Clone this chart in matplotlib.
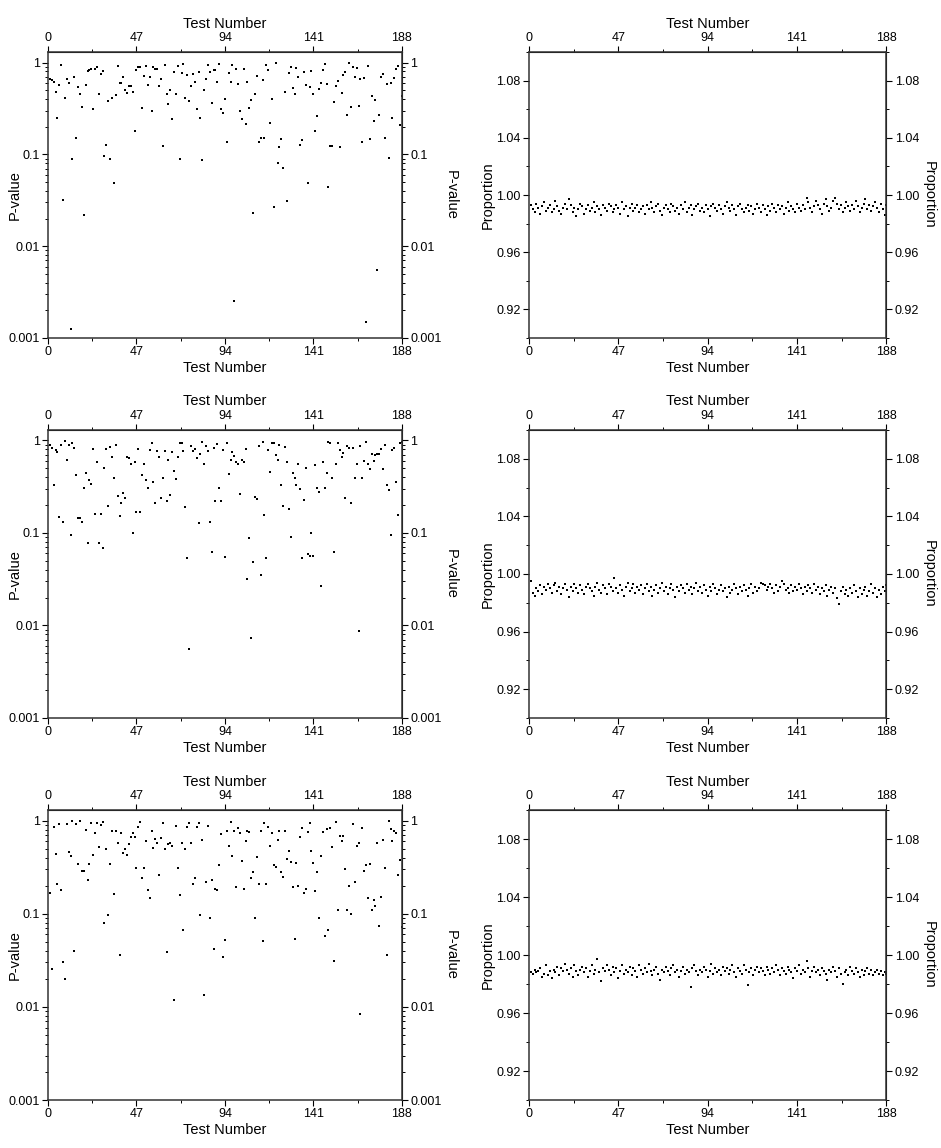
import matplotlib
matplotlib.use("Agg")
import matplotlib.pyplot as plt
import numpy as np
from matplotlib.ticker import FixedLocator, MultipleLocator, LogLocator, NullFormatter

plt.rcParams['font.family'] = ['Liberation Sans', 'DejaVu Sans']

test_ticks = [0, 47, 94, 141, 188]
p_ticks = [0.001, 0.01, 0.1, 1]
p_labels = ['0.001', '0.01', '0.1', '1']
prop_ticks = [0.92, 0.96, 1.00, 1.04, 1.08]
prop_labels = ['0.92', '0.96', '1.00', '1.04', '1.08']
prop_minor = [0.90, 0.94, 0.98, 1.02, 1.06, 1.10]

# P-values, sample 1
pvals_1 = [0.66, 0.64, 0.62, 0.48, 0.25, 0.57, 0.94, 0.032, 0.41, 0.66,
           0.60, 0.00125, 0.090, 0.70, 0.15, 0.54, 0.46, 0.33, 0.022, 0.57,
           0.80, 0.83, 0.85, 0.31, 0.85, 0.90, 0.46, 0.75, 0.81, 0.095,
           0.126, 0.38, 0.089, 0.41, 0.049, 0.44, 0.92, 0.60, 0.60, 0.70,
           0.50, 0.47, 0.55, 0.56, 0.48, 0.18, 0.82, 0.89, 0.89, 0.32,
           0.72, 0.92, 0.57, 0.70, 0.30, 0.90, 0.85, 0.85, 0.55, 0.67,
           0.124, 0.94, 0.46, 0.35, 0.50, 0.24, 0.79, 0.46, 0.92, 0.088,
           0.77, 0.97, 0.41, 0.73, 0.38, 0.55, 0.75, 0.61, 0.31, 0.79,
           0.25, 0.086, 0.50, 0.66, 0.95, 0.79, 0.36, 0.83, 0.83, 0.61,
           0.97, 0.31, 0.28, 0.40, 0.138, 0.77, 0.61,
           0.94, 0.0025, 0.85, 0.58, 0.30, 0.24, 0.86, 0.215, 0.62, 0.32,
           0.39, 0.023, 0.46, 0.72, 0.138, 0.149, 0.65, 0.149, 0.93, 0.83,
           0.22, 0.40, 0.027, 0.98, 0.080, 0.12, 0.146, 0.071, 0.48, 0.031,
           0.77, 0.89, 0.53, 0.45, 0.87, 0.70, 0.126, 0.144, 0.79, 0.57,
           0.049, 0.54, 0.81, 0.45, 0.18, 0.26, 0.52, 0.60, 0.83, 0.97,
           0.58, 0.044, 0.122, 0.124, 0.37, 0.56, 0.63, 0.12, 0.47, 0.73,
           0.78, 0.27, 0.98, 0.33, 0.90, 0.69, 0.87, 0.34, 0.66, 0.136,
           0.68, 0.0015, 0.91, 0.146, 0.43, 0.23, 0.39, 0.0055, 0.27, 0.69,
           0.75, 0.15, 0.58, 0.091, 0.60, 0.25, 0.68, 0.86, 0.92, 0.21, 0.43]

# P-values, sample 2
pvals_2 = [0.89, 0.82, 0.33, 0.78, 0.75, 0.15, 0.89, 0.13, 0.98, 0.61,
           0.89, 0.094, 0.95, 0.82, 0.42, 0.145, 0.146, 0.13, 0.31, 0.44,
           0.078, 0.37, 0.34, 0.80, 0.16, 0.59, 0.077, 0.16, 0.068, 0.51,
           0.80, 0.195, 0.86, 0.66, 0.39, 0.90, 0.25, 0.153, 0.21, 0.27,
           0.24, 0.66, 0.64, 0.55, 0.10, 0.59, 0.17, 0.81, 0.17, 0.42,
           0.56, 0.37, 0.31, 0.78, 0.93, 0.355, 0.21, 0.76, 0.66, 0.24,
           0.39, 0.77, 0.22, 0.62, 0.255, 0.75, 0.47, 0.38, 0.66, 0.93,
           0.93, 0.76, 0.19, 0.053, 0.0055, 0.87, 0.77, 0.80, 0.65, 0.128,
           0.71, 0.97, 0.56, 0.87, 0.76, 0.13, 0.063, 0.82, 0.22, 0.91,
           0.31, 0.22, 0.78, 0.055, 0.95, 0.43, 0.62,
           0.75, 0.68, 0.58, 0.55, 0.265, 0.62, 0.59, 0.80, 0.032, 0.088,
           0.0073, 0.048, 0.245, 0.235, 0.87, 0.035, 0.97, 0.155, 0.053, 0.78,
           0.46, 0.94, 0.93, 0.70, 0.61, 0.90, 0.33, 0.195, 0.85, 0.59,
           0.18, 0.091, 0.44, 0.39, 0.33, 0.56, 0.30, 0.053, 0.23, 0.51,
           0.059, 0.056, 0.099, 0.056, 0.54, 0.31, 0.28, 0.027, 0.58, 0.31,
           0.44, 0.96, 0.94, 0.39, 0.063, 0.56, 0.93, 0.78, 0.66, 0.73,
           0.24, 0.87, 0.82, 0.21, 0.83, 0.39, 0.56, 0.0088, 0.87, 0.39,
           0.60, 0.96, 0.56, 0.49, 0.72, 0.60, 0.70, 0.71, 0.71, 0.80,
           0.49, 0.90, 0.33, 0.29, 0.096, 0.79, 0.83, 0.36, 0.155, 0.94, 0.96]

# P-values, sample 3
pvals_3 = [0.168, 0.0255, 0.85, 0.44, 0.21, 0.92, 0.18, 0.030, 0.020, 0.92,
           0.46, 0.415, 0.99, 0.040, 0.92, 0.34, 0.98, 0.29, 0.29, 0.79,
           0.23, 0.34, 0.94, 0.43, 0.73, 0.94, 0.52, 0.89, 0.975, 0.080,
           0.49, 0.098, 0.34, 0.77, 0.164, 0.78, 0.58, 0.036, 0.73, 0.45,
           0.49, 0.43, 0.565, 0.67, 0.74, 0.67, 0.31, 0.86, 0.96, 0.24,
           0.31, 0.61, 0.18, 0.148, 0.78, 0.51, 0.64, 0.58, 0.26, 0.645,
           0.94, 0.50, 0.039, 0.565, 0.58, 0.54, 0.0118, 0.87, 0.31, 0.16,
           0.58, 0.067, 0.50, 0.85, 0.94, 0.58, 0.21, 0.245, 0.85, 0.94,
           0.098, 0.62, 0.0133, 0.22, 0.88, 0.090, 0.23, 0.042, 0.185, 0.18,
           0.33, 0.71, 0.034, 0.052, 0.78,
           0.53, 0.96, 0.42, 0.78, 0.195, 0.83, 0.73, 0.37, 0.185, 0.61,
           0.77, 0.76, 0.24, 0.28, 0.089, 0.41, 0.21, 0.77, 0.051, 0.94,
           0.21, 0.85, 0.54, 0.74, 0.33, 0.32, 0.62, 0.77, 0.28, 0.25,
           0.77, 0.385, 0.475, 0.36, 0.195, 0.054, 0.35, 0.20, 0.66, 0.83,
           0.167, 0.186, 0.76, 0.95, 0.475, 0.35, 0.174, 0.28, 0.090, 0.42,
           0.75, 0.057, 0.82, 0.067, 0.84, 0.52, 0.031, 0.97, 0.110, 0.68,
           0.60, 0.68, 0.30, 0.110, 0.20, 0.10, 0.91, 0.22, 0.53, 0.58,
           0.0084, 0.84, 0.29, 0.335, 0.146, 0.34, 0.110, 0.14, 0.12, 0.57,
           0.074, 0.15, 0.62, 0.31, 0.036, 0.98, 0.81, 0.61, 0.78, 0.74,
           0.26, 0.38, 0.072]

# proportions of passing sequences
prop_1 = [0.993, 0.990, 0.988, 0.994, 0.991, 0.987, 0.992, 0.995, 0.989, 0.991,
          0.993, 0.988, 0.990, 0.996, 0.992, 0.989, 0.987, 0.991, 0.994, 0.990,
          0.997, 0.993, 0.988, 0.991, 0.985, 0.990, 0.994, 0.992, 0.987, 0.990,
          0.993, 0.989, 0.991, 0.995, 0.988, 0.992, 0.990, 0.986, 0.993, 0.991,
          0.989, 0.994, 0.992, 0.988, 0.990, 0.993, 0.991, 0.987, 0.995, 0.990,
          0.992, 0.985, 0.991, 0.994, 0.989, 0.991, 0.993, 0.988, 0.990, 0.992,
          0.987, 0.993, 0.990, 0.995, 0.991, 0.988, 0.992, 0.994, 0.989, 0.986,
          0.991, 0.993, 0.990, 0.988, 0.994, 0.992, 0.989, 0.991, 0.987, 0.993,
          0.990, 0.995, 0.988, 0.991, 0.993, 0.986, 0.990, 0.992, 0.994, 0.989,
          0.991, 0.988, 0.993, 0.990, 0.985, 0.992, 0.994, 0.991, 0.989, 0.993,
          0.990, 0.987, 0.992, 0.995, 0.991, 0.989, 0.993, 0.990, 0.986, 0.992,
          0.994, 0.990, 0.988, 0.991, 0.993, 0.989, 0.992, 0.987, 0.990, 0.994,
          0.991, 0.988, 0.993, 0.990, 0.986, 0.992, 0.989, 0.994, 0.991, 0.988,
          0.993, 0.990, 0.992, 0.987, 0.991, 0.995, 0.989, 0.992, 0.990, 0.988,
          0.994, 0.991, 0.989, 0.993, 0.990, 0.998, 0.995, 0.991, 0.988, 0.992,
          0.996, 0.993, 0.990, 0.987, 0.994, 0.997, 0.992, 0.989, 0.991, 0.996,
          0.998, 0.994, 0.990, 0.993, 0.988, 0.991, 0.995, 0.992, 0.989, 0.993,
          0.990, 0.996, 0.992, 0.988, 0.991, 0.994, 0.997, 0.990, 0.993, 0.989,
          0.992, 0.995, 0.991, 0.988, 0.994, 0.990, 0.986, 0.993]

prop_2 = [0.995, 0.987, 0.985, 0.990, 0.988, 0.992, 0.986, 0.991, 0.989, 0.993,
          0.990, 0.987, 0.992, 0.994, 0.988, 0.991, 0.986, 0.990, 0.993, 0.989,
          0.984, 0.991, 0.988, 0.993, 0.990, 0.987, 0.992, 0.989, 0.986, 0.991,
          0.993, 0.990, 0.988, 0.985, 0.991, 0.994, 0.989, 0.987, 0.992, 0.990,
          0.986, 0.993, 0.991, 0.988, 0.997, 0.990, 0.987, 0.992, 0.989, 0.985,
          0.991, 0.994, 0.988, 0.990, 0.993, 0.987, 0.991, 0.989, 0.992, 0.986,
          0.990, 0.993, 0.988, 0.991, 0.985, 0.989, 0.992, 0.987, 0.990, 0.994,
          0.988, 0.991, 0.986, 0.990, 0.993, 0.989, 0.984, 0.991, 0.988, 0.992,
          0.990, 0.987, 0.993, 0.989, 0.991, 0.986, 0.990, 0.994, 0.988, 0.991,
          0.987, 0.992, 0.989, 0.985, 0.991, 0.988, 0.993, 0.990, 0.986, 0.989,
          0.992, 0.988, 0.990, 0.984, 0.991, 0.987, 0.989, 0.993, 0.990, 0.986,
          0.991, 0.988, 0.992, 0.989, 0.985, 0.990, 0.993, 0.987, 0.991, 0.988,
          0.990, 0.994, 0.993, 0.992, 0.989, 0.991, 0.993, 0.990, 0.987, 0.992,
          0.988, 0.991, 0.995, 0.993, 0.989, 0.990, 0.987, 0.992, 0.988, 0.991,
          0.989, 0.993, 0.990, 0.986, 0.991, 0.988, 0.992, 0.990, 0.987, 0.993,
          0.989, 0.991, 0.986, 0.990, 0.988, 0.992, 0.985, 0.989, 0.991, 0.987,
          0.990, 0.983, 0.979, 0.988, 0.991, 0.986, 0.989, 0.985, 0.990, 0.987,
          0.992, 0.988, 0.984, 0.990, 0.986, 0.989, 0.991, 0.985, 0.988, 0.993,
          0.987, 0.990, 0.984, 0.989, 0.986, 0.991, 0.988, 0.992]

prop_3 = [0.988, 0.987, 0.990, 0.988, 0.989, 0.991, 0.985, 0.987, 0.993, 0.986,
          0.989, 0.984, 0.990, 0.988, 0.992, 0.986, 0.991, 0.989, 0.994, 0.990,
          0.987, 0.991, 0.985, 0.993, 0.989, 0.986, 0.990, 0.992, 0.988, 0.991,
          0.985, 0.989, 0.993, 0.987, 0.990, 0.997, 0.988, 0.982, 0.991, 0.989,
          0.993, 0.990, 0.986, 0.992, 0.988, 0.991, 0.984, 0.989, 0.993, 0.987,
          0.990, 0.988, 0.992, 0.986, 0.991, 0.989, 0.985, 0.993, 0.990, 0.987,
          0.991, 0.988, 0.994, 0.989, 0.986, 0.990, 0.992, 0.987, 0.983, 0.990,
          0.988, 0.992, 0.989, 0.986, 0.991, 0.993, 0.988, 0.990, 0.985, 0.989,
          0.992, 0.987, 0.990, 0.988, 0.978, 0.991, 0.993, 0.989, 0.986, 0.990,
          0.988, 0.992, 0.990, 0.985, 0.989, 0.994, 0.987, 0.991, 0.988, 0.990,
          0.986, 0.992, 0.989, 0.991, 0.987, 0.990, 0.993, 0.988, 0.985, 0.991,
          0.989, 0.987, 0.993, 0.990, 0.979, 0.988, 0.991, 0.986, 0.990, 0.992,
          0.988, 0.991, 0.989, 0.986, 0.992, 0.990, 0.987, 0.991, 0.988, 0.993,
          0.990, 0.986, 0.991, 0.989, 0.987, 0.992, 0.990, 0.988, 0.984, 0.991,
          0.989, 0.993, 0.987, 0.990, 0.988, 0.996, 0.991, 0.985, 0.989, 0.992,
          0.988, 0.990, 0.986, 0.991, 0.989, 0.987, 0.983, 0.990, 0.988, 0.992,
          0.989, 0.985, 0.991, 0.987, 0.980, 0.988, 0.990, 0.986, 0.992, 0.989,
          0.987, 0.991, 0.988, 0.985, 0.990, 0.986, 0.989, 0.991, 0.987, 0.990,
          0.986, 0.988, 0.990, 0.987, 0.989, 0.986, 0.988, 0.987]

pval_sets = [pvals_1, pvals_2, pvals_3]
prop_sets = [prop_1, prop_2, prop_3]

FS_LABEL = 10.5
FS_TICK = 9
MS = 1.9
row_bottoms = [0.7056, 0.3746, 0.0418]
row_heights = [0.249, 0.2509, 0.2526]


def finish_axis(ax, ylabel, yticks, ylabels, ylog):
    ax.set_xlim(0, 188)
    ax.set_xticks(test_ticks)
    ax.xaxis.set_minor_locator(MultipleLocator(23.5))
    ax.set_yticks(yticks, ylabels)
    if ylog:
        ax.yaxis.set_minor_locator(LogLocator(base=10, subs=np.arange(2, 10)))
        ax.yaxis.set_minor_formatter(NullFormatter())
    else:
        ax.yaxis.set_minor_locator(FixedLocator(prop_minor))
    ax.tick_params(which='major', direction='out', length=4, width=0.8, labelsize=FS_TICK, pad=2)
    ax.tick_params(which='minor', direction='out', length=2.5, width=0.7)
    ax.set_xlabel('Test Number', fontsize=FS_LABEL, labelpad=2)
    ax.set_ylabel(ylabel, fontsize=FS_LABEL)
    if ylog:
        # label sits between the tick labels, close to the spine
        ax.yaxis.set_label_coords(-0.075, 0.5)
    else:
        ax.yaxis.set_label_coords(-0.095, 0.5)
    for sp in ax.spines.values():
        sp.set_linewidth(1.1)
        sp.set_color('#333333')

    top = ax.secondary_xaxis('top')
    top.set_xticks(test_ticks)
    top.xaxis.set_minor_locator(MultipleLocator(23.5))
    top.tick_params(which='major', direction='out', length=4, width=0.8, labelsize=FS_TICK, pad=2)
    top.tick_params(which='minor', direction='out', length=2.5, width=0.7)
    top.set_xlabel('Test Number', fontsize=FS_LABEL, labelpad=3)

    right = ax.secondary_yaxis('right')
    right.set_yticks(yticks, ylabels)
    if ylog:
        right.yaxis.set_minor_locator(LogLocator(base=10, subs=np.arange(2, 10)))
        right.yaxis.set_minor_formatter(NullFormatter())
    else:
        right.yaxis.set_minor_locator(FixedLocator(prop_minor))
    right.tick_params(which='major', direction='out', length=4, width=0.8, labelsize=FS_TICK, pad=2)
    right.tick_params(which='minor', direction='out', length=2.5, width=0.7)
    right.set_ylabel(ylabel, fontsize=FS_LABEL, rotation=270, labelpad=12)


fig = plt.figure(figsize=(9.41, 11.48), dpi=100)

for i in range(3):
    # left column: P-values on a log scale
    axl = fig.add_axes([0.051, row_bottoms[i], 0.376, row_heights[i]])
    pv = pval_sets[i]
    axl.plot(np.arange(1, len(pv) + 1), pv, 's', color='black', ms=MS, mew=0)
    axl.set_yscale('log')
    axl.set_ylim(0.001, 1.3)
    finish_axis(axl, 'P-value', p_ticks, p_labels, True)

    # right column: proportions
    axr = fig.add_axes([0.562, row_bottoms[i], 0.380, row_heights[i]])
    pr = prop_sets[i]
    axr.plot(np.arange(1, len(pr) + 1), pr, 's', color='black', ms=MS, mew=0)
    axr.set_ylim(0.90, 1.10)
    finish_axis(axr, 'Proportion', prop_ticks, prop_labels, False)

fig.savefig('out.png', dpi=100)
